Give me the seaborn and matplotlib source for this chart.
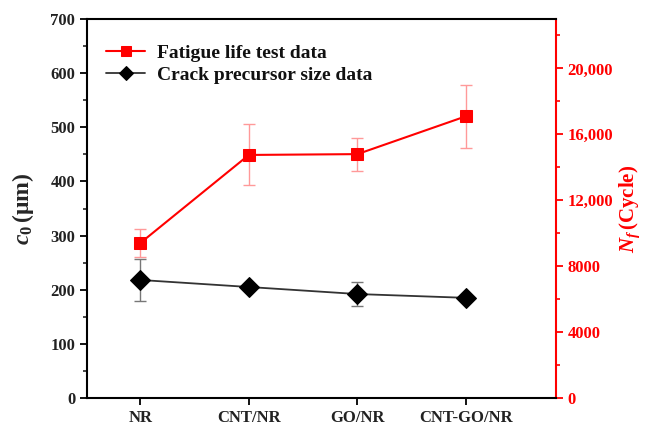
import numpy as np
import pandas as pd
import matplotlib
matplotlib.use("Agg")
import matplotlib.pyplot as plt
import seaborn as sns
from matplotlib.ticker import MultipleLocator, FuncFormatter

# data
materials = ["NR", "CNT/NR", "GO/NR", "CNT-GO/NR"]
fatigue_life = [9400, 14750, 14800, 17100]       # N_f (cycles), right axis
fatigue_err = [850, 1850, 1000, 1900]
crack_size = [218, 205, 192, 185]                # c_0 (um), left axis
crack_err = [39, 4, 22, 3]

sns.set_theme(style="white")
plt.rcParams["font.family"] = ["Liberation Serif", "DejaVu Serif"]
plt.rcParams["font.weight"] = "bold"
plt.rcParams["mathtext.fontset"] = "custom"
plt.rcParams["mathtext.it"] = "Liberation Serif:italic:bold"
plt.rcParams["mathtext.rm"] = "Liberation Serif:bold"

df = pd.DataFrame({
    "pos": np.arange(len(materials)),
    "material": materials,
    "life": fatigue_life,
    "life_err": fatigue_err,
    "size": crack_size,
    "size_err": crack_err,
})

fig = plt.figure(figsize=(6.46, 4.28), dpi=100)
ax = fig.add_axes([0.1347, 0.0701, 0.7263, 0.8855])
ax2 = ax.twinx()

# crack precursor size on the left axis
ax.errorbar(df["pos"], df["size"], yerr=df["size_err"], fmt="none",
            ecolor="#777777", elinewidth=1, capsize=4.5, capthick=1, zorder=2)
sns.lineplot(data=df, x="pos", y="size", ax=ax, color="#333333", lw=1.3,
             marker="D", markersize=10, markerfacecolor="black",
             markeredgecolor="black", zorder=3)

# fatigue life on the right axis
ax2.errorbar(df["pos"], df["life"], yerr=df["life_err"], fmt="none",
             ecolor="#ff9999", elinewidth=1, capsize=4.5, capthick=1, zorder=2)
sns.lineplot(data=df, x="pos", y="life", ax=ax2, color="red", lw=1.5,
             marker="s", markersize=8, markerfacecolor="red",
             markeredgecolor="red", zorder=3)

ax.set_xlim(-0.49, 3.83)
ax.set_ylim(0, 700)
ax2.set_ylim(0, 23000)

ax.set_xticks(df["pos"])
ax.set_xticklabels(materials)
ax.yaxis.set_major_locator(MultipleLocator(100))
ax.yaxis.set_minor_locator(MultipleLocator(50))
ax2.yaxis.set_major_locator(MultipleLocator(4000))
ax2.yaxis.set_minor_locator(MultipleLocator(2000))
ax2.yaxis.set_major_formatter(
    FuncFormatter(lambda v, p: f"{int(v):,}" if v >= 10000 else f"{int(v)}"))

ax.set_xlabel("")
ax.set_ylabel(r"$c_{\mathit{0}}\,$(μm)", fontsize=17, fontweight="bold",
              labelpad=10)
ax2.set_ylabel(r"$N_f\,$(Cycle)", fontsize=15, fontweight="bold",
               color="red", labelpad=3)

for s in ["left", "bottom", "top"]:
    ax.spines[s].set_color("black")
    ax.spines[s].set_linewidth(1.5)
ax.spines["right"].set_visible(False)
for s in ["left", "bottom", "top"]:
    ax2.spines[s].set_visible(False)
ax2.spines["right"].set_color("red")
ax2.spines["right"].set_linewidth(1.5)

ax.tick_params(axis="both", which="major", direction="out", length=5,
               width=1.3, labelsize=12, color="black", labelcolor="#222222",
               left=True, bottom=True)
ax.tick_params(axis="y", which="minor", direction="out", length=3,
               width=1.2, left=True)
ax2.tick_params(axis="y", which="major", direction="out", length=5,
                width=1.3, labelsize=12, color="red", labelcolor="red",
                right=True, pad=3)
ax2.tick_params(axis="y", which="minor", direction="out", length=3,
                width=1.2, color="red", right=True)
for lab in ax.get_xticklabels() + ax.get_yticklabels() + ax2.get_yticklabels():
    lab.set_fontweight("bold")

l1 = ax2.get_lines()[-1]
l2 = ax.get_lines()[-1]
leg = ax.legend([l1, l2], ["Fatigue life test data", "Crack precursor size data"],
                loc="upper left", bbox_to_anchor=(0.0, 0.985), frameon=False,
                prop={"size": 14, "weight": "bold"}, handlelength=2.0,
                labelspacing=0.25, borderaxespad=0.6, handletextpad=0.6)
for t in leg.get_texts():
    t.set_color("#111111")
for h in leg.legend_handles:
    h.set_markersize(7)

ax.set_zorder(ax2.get_zorder() + 1)
ax.patch.set_visible(False)

fig.savefig("out.png", dpi=100)
